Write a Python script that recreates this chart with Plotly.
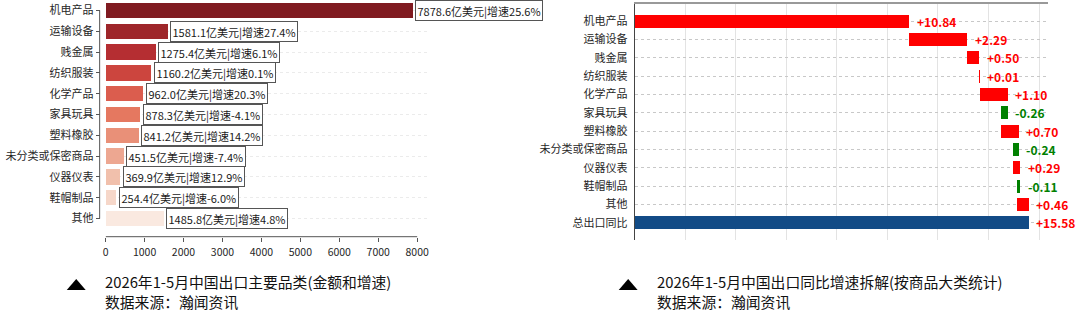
import colorsys
import numpy as np
import plotly.graph_objects as go

# ---------------- data ----------------
categories = ["机电产品", "运输设备", "贱金属", "纺织服装", "化学产品", "家具玩具",
              "塑料橡胶", "未分类或保密商品", "仪器仪表", "鞋帽制品", "其他"]
export_value = [7878.6, 1581.1, 1275.4, 1160.2, 962.0, 878.3, 841.2, 451.5, 369.9, 254.4, 1485.8]
growth_rate = [25.6, 27.4, 6.1, 0.1, 20.3, -4.1, 14.2, -7.4, 12.9, -6.0, 4.8]
contribution = [10.84, 2.29, 0.50, 0.01, 1.10, -0.26, 0.70, -0.24, 0.29, -0.11, 0.46]
total_label = "总出口同比"
total_growth = 15.58
left_x_ticks = [0, 1000, 2000, 3000, 4000, 5000, 6000, 7000, 8000]
left_title = "2026年1-5月中国出口主要品类(金额和增速)"
right_title = "2026年1-5月中国出口同比增速拆解(按商品大类统计)"
source_text = "数据来源：瀚闻资讯"

W, H = 1080, 315
FONT = "Noto Sans CJK SC"


def px_x(x):
    return x / W


def px_y(y):
    return 1 - y / H


# seaborn-like Reds_r palette with saturation 0.75
REDS = ["#fff5f0", "#fee0d2", "#fcbba1", "#fc9272", "#fb6a4a",
        "#ef3b2c", "#cb181d", "#a50f15", "#67000d"]


def reds_r(n, sat=0.75):
    anchors = [tuple(int(h[i:i + 2], 16) for i in (1, 3, 5)) for h in REDS]
    out = []
    for i in range(1, n + 1):
        p = 1 - i / (n + 1)
        pos = p * 8
        k = min(int(pos), 7)
        t = pos - k
        c = [anchors[k][j] + (anchors[k + 1][j] - anchors[k][j]) * t for j in range(3)]
        h, l, s = colorsys.rgb_to_hls(*(v / 255 for v in c))
        r, g, b = colorsys.hls_to_rgb(h, l, s * sat)
        out.append(f"rgb({round(r*255)},{round(g*255)},{round(b*255)})")
    return out


bar_colors = reds_r(len(categories))

fig = go.Figure()

# ---------------- left chart ----------------
fig.add_trace(go.Bar(
    y=categories, x=export_value, orientation="h",
    marker=dict(color=bar_colors, line=dict(width=0)),
    width=0.74, xaxis="x", yaxis="y", showlegend=False, hoverinfo="skip",
))

annotations = []
for c, v, g in zip(categories, export_value, growth_rate):
    annotations.append(dict(
        x=v, y=c, xref="x", yref="y", xanchor="left", yanchor="middle",
        xshift=3, showarrow=False,
        text=f"{v:.1f}亿美元|增速{g:.1f}%",
        font=dict(family=FONT, size=11, color="#1a1a1a"),
        bgcolor="white", bordercolor="#555555", borderwidth=1, borderpad=1.5,
    ))

# ---------------- right chart (waterfall) ----------------
deltas = np.array(contribution)
ends = np.cumsum(deltas)
starts = ends - deltas
wf_cats = categories + [total_label]
wf_x = list(deltas) + [total_growth]
wf_base = list(starts) + [0.0]
wf_colors = ["#ff0000" if d >= 0 else "#008000" for d in deltas] + ["#124b86"]

fig.add_trace(go.Bar(
    y=wf_cats, x=wf_x, base=wf_base, orientation="h",
    marker=dict(color=wf_colors, line=dict(width=0)),
    width=0.7, xaxis="x2", yaxis="y2", showlegend=False, hoverinfo="skip",
))

for c, d, b in zip(wf_cats, wf_x, wf_base):
    right_end = max(b, b + d)
    annotations.append(dict(
        x=right_end, y=c, xref="x2", yref="y2", xanchor="left", yanchor="middle",
        xshift=6, showarrow=False,
        text=f"<b>{d:+.2f}</b>",
        font=dict(family=FONT, size=12, color="#ff0000" if d >= 0 else "#008000"),
    ))

# ---------------- captions ----------------
for xpx, title in ((100, left_title), (654, right_title)):
    annotations.append(dict(
        x=px_x(xpx), y=px_y(281.5), xref="paper", yref="paper",
        xanchor="left", yanchor="middle", showarrow=False, text=title,
        font=dict(family=FONT, size=14.8, color="#111111"),
    ))
    annotations.append(dict(
        x=px_x(xpx), y=px_y(301.5), xref="paper", yref="paper",
        xanchor="left", yanchor="middle", showarrow=False, text=source_text,
        font=dict(family=FONT, size=14.8, color="#111111"),
    ))

shapes = []
# triangles
for x0 in (64, 618):
    path = (f"M {px_x(x0)},{px_y(290)} L {px_x(x0 + 19)},{px_y(290)} "
            f"L {px_x(x0 + 9.5)},{px_y(279)} Z")
    shapes.append(dict(type="path", xref="paper", yref="paper", path=path,
                       fillcolor="black", line=dict(width=0)))

# trimmed, offset spines of the left chart
spine_y = px_y(236.7)
spine_x = px_x(97)
shapes.append(dict(type="line", xref="x", yref="paper", x0=0, x1=8000,
                   y0=spine_y, y1=spine_y, line=dict(color="#555555", width=1)))
shapes.append(dict(type="line", xref="paper", yref="y", x0=spine_x, x1=spine_x,
                   y0=0, y1=len(categories) - 1, line=dict(color="#555555", width=1)))

left_xmax = max(export_value) * 1.05
n2 = len(wf_cats)
right_xmax = total_growth * 1.05

fig.update_layout(
    width=W, height=H, margin=dict(l=0, r=0, t=0, b=0),
    paper_bgcolor="white", plot_bgcolor="white",
    font=dict(family=FONT, size=11, color="#262626"),
    bargap=0,
    xaxis=dict(
        domain=[px_x(103), px_x(103 + left_xmax / 1000 * 39.09)],
        range=[0, left_xmax], anchor="free", position=spine_y,
        tickvals=left_x_ticks, ticks="outside", ticklen=4, tickcolor="#555555",
        ticklabelstandoff=2,
        showline=False, showgrid=False, zeroline=False,
        tickfont=dict(family=FONT, size=10.5, color="#262626"),
    ),
    yaxis=dict(
        domain=[px_y(229), 1.0], type="category",
        categoryorder="array", categoryarray=categories,
        range=[len(categories) - 0.5, -0.5], anchor="free", position=spine_x,
        ticks="outside", ticklen=4, tickcolor="#555555",
        showline=False, showgrid=True, gridcolor="#ebebeb", griddash="dot",
        zeroline=False, tickfont=dict(family=FONT, size=11, color="#262626"),
    ),
    xaxis2=dict(
        domain=[px_x(634), px_x(1049)], range=[0, right_xmax], anchor="y2",
        side="top", showline=True, linecolor="#999999", linewidth=1.5,
        tickvals=list(range(0, 18, 2)), showticklabels=False, ticks="",
        showgrid=True, gridcolor="#e3e3e3", gridwidth=1, zeroline=False,
    ),
    yaxis2=dict(
        domain=[px_y(240), px_y(4)], type="category", anchor="x2",
        categoryorder="array", categoryarray=wf_cats,
        range=[n2 - 1 + 0.935, -0.935],
        showline=True, linecolor="#444444", linewidth=1,
        ticks="", ticklabelstandoff=4,
        showgrid=True, gridcolor="#c8c8c8", griddash="dot", zeroline=False,
        tickfont=dict(family=FONT, size=11, color="#262626"),
    ),
    annotations=annotations,
    shapes=shapes,
)

fig.write_html("out.html")
